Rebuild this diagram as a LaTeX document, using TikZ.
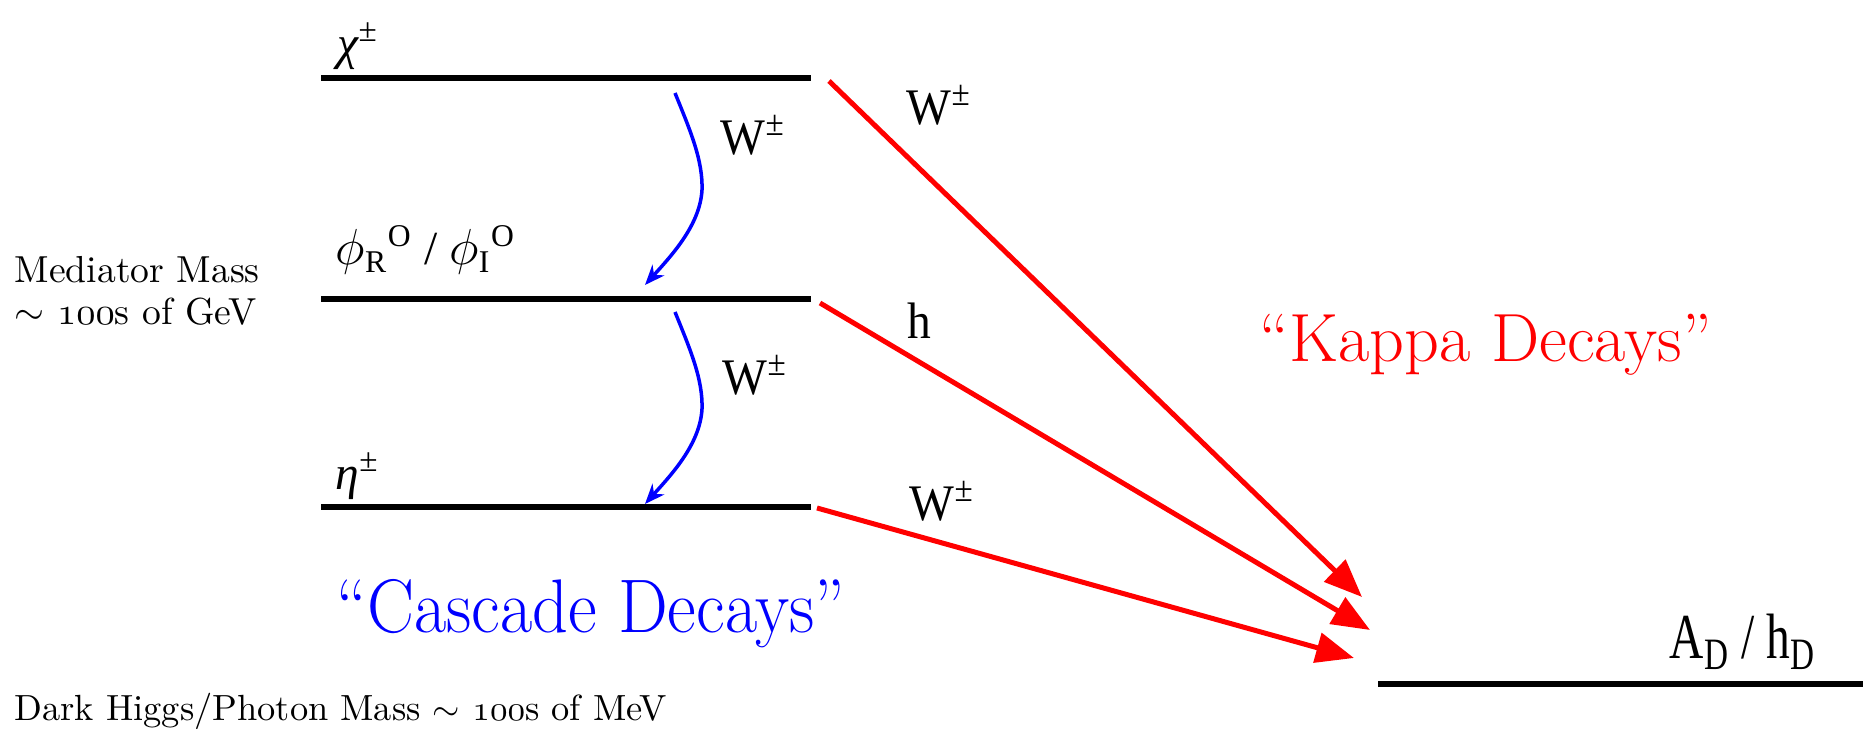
\documentclass[tikz,border=0pt]{standalone}
\usepackage{fontspec}
\usepackage{graphicx}
\usetikzlibrary{arrows.meta}
\IfFontExistsTF{Liberation Serif}{\newfontfamily\tms{Liberation Serif}}{\newfontfamily\tms{DejaVu Serif}}
\newcommand\scr[1]{{\fontsize{9}{10}\selectfont #1}}
\begin{document}
\begin{tikzpicture}[x=0.01cm,y=-0.01cm,
  lvl/.style={line width=0.055cm, black},
  kappa/.style={draw=red, line width=0.05cm, -{Triangle[length=0.38cm,width=0.3cm]}},
  casc/.style={draw=blue, line width=0.035cm, -{Stealth[length=0.2cm,width=0.16cm]}},
  tm/.style={font=\tms\fontsize{13.5}{16}\selectfont, anchor=base west, inner sep=0pt},
  pf/.style={anchor=base west, inner sep=0pt},
  small/.style={pf, font=\fontsize{10.7}{13}\selectfont},
]
\useasboundingbox (0,0) rectangle (1863,731);
% level lines
\coordinate (chiL) at (321,78);  \coordinate (chiR) at (811,78);
\coordinate (phiL) at (321,299); \coordinate (phiR) at (811,299);
\coordinate (etaL) at (321,507); \coordinate (etaR) at (811,507);
\coordinate (adL) at (1378,684); \coordinate (adR) at (1863,684);
\draw[lvl] (chiL) -- (chiR);
\draw[lvl] (phiL) -- (phiR);
\draw[lvl] (etaL) -- (etaR);
\draw[lvl] (adL) -- (adR);
% kappa decays
\coordinate (k1s) at (829,81);  \coordinate (k1e) at (1362,597);
\coordinate (k2s) at (820,303); \coordinate (k2e) at (1370,630);
\coordinate (k3s) at (817,508); \coordinate (k3e) at (1354,658);
\draw[kappa] (k1s) -- (k1e);
\draw[kappa] (k2s) -- (k2e);
\draw[kappa] (k3s) -- (k3e);
% cascade decays
\coordinate (c1s) at (675,93);  \coordinate (c1e) at (645,285);
\coordinate (c2s) at (675,312); \coordinate (c2e) at (645,504);
\draw[casc] (c1s) .. controls (690,130) and (703,160) .. (702,190) .. controls (700,225) and (672,255) .. (c1e);
\draw[casc] (c2s) .. controls (690,349) and (703,379) .. (702,409) .. controls (700,444) and (672,474) .. (c2e);
% labels
\node[tm] (chi) at (337,60) {\itshape χ\textsuperscript{\upshape ±}};
\node[tm] (phi) at (335,265) {$\phi$\textsubscript{\scr{R}}\textsuperscript{\scr{O}} / $\phi$\textsubscript{\scr{I}}\textsuperscript{\scr{O}}};
\node[tm] (eta) at (335,490) {\itshape η\textsuperscript{\upshape ±}};
\node[tm] (w1) at (720,155) {\scalebox{1}[1.08]{W\textsuperscript{±}}};
\node[tm] (w2) at (722,395) {\scalebox{1}[1.08]{W\textsuperscript{±}}};
\node[tm] (w3) at (906,125) {\scalebox{1}[1.08]{W\textsuperscript{±}}};
\node[tm] (hh) at (907,339) {\scalebox{1}[1.08]{h}};
\node[tm] (w4) at (909,521) {\scalebox{1}[1.08]{W\textsuperscript{±}}};
\node[tm] (ad) at (1669,659) {\scalebox{1}[1.35]{A\textsubscript{D} / h\textsubscript{D}}};
\node[small] (med1) at (14,283) {Mediator Mass};
\node[small] (med2) at (14,325) {$\sim$ $\mathnormal{100}$s of GeV};
\node[small, font=\fontsize{10.35}{13}\selectfont] (dark) at (14,721) {Dark Higgs/Photon Mass $\sim$ $\mathnormal{100}$s of MeV};
\node[pf, text=blue, font=\fontsize{20}{24}\selectfont] (cas) at (336,633) {\scalebox{1}[1.08]{“Cascade Decays”}};
\node[pf, text=red, font=\fontsize{19.4}{23}\selectfont] (kap) at (1259,362) {“Kappa Decays”};
\end{tikzpicture}
\end{document}
